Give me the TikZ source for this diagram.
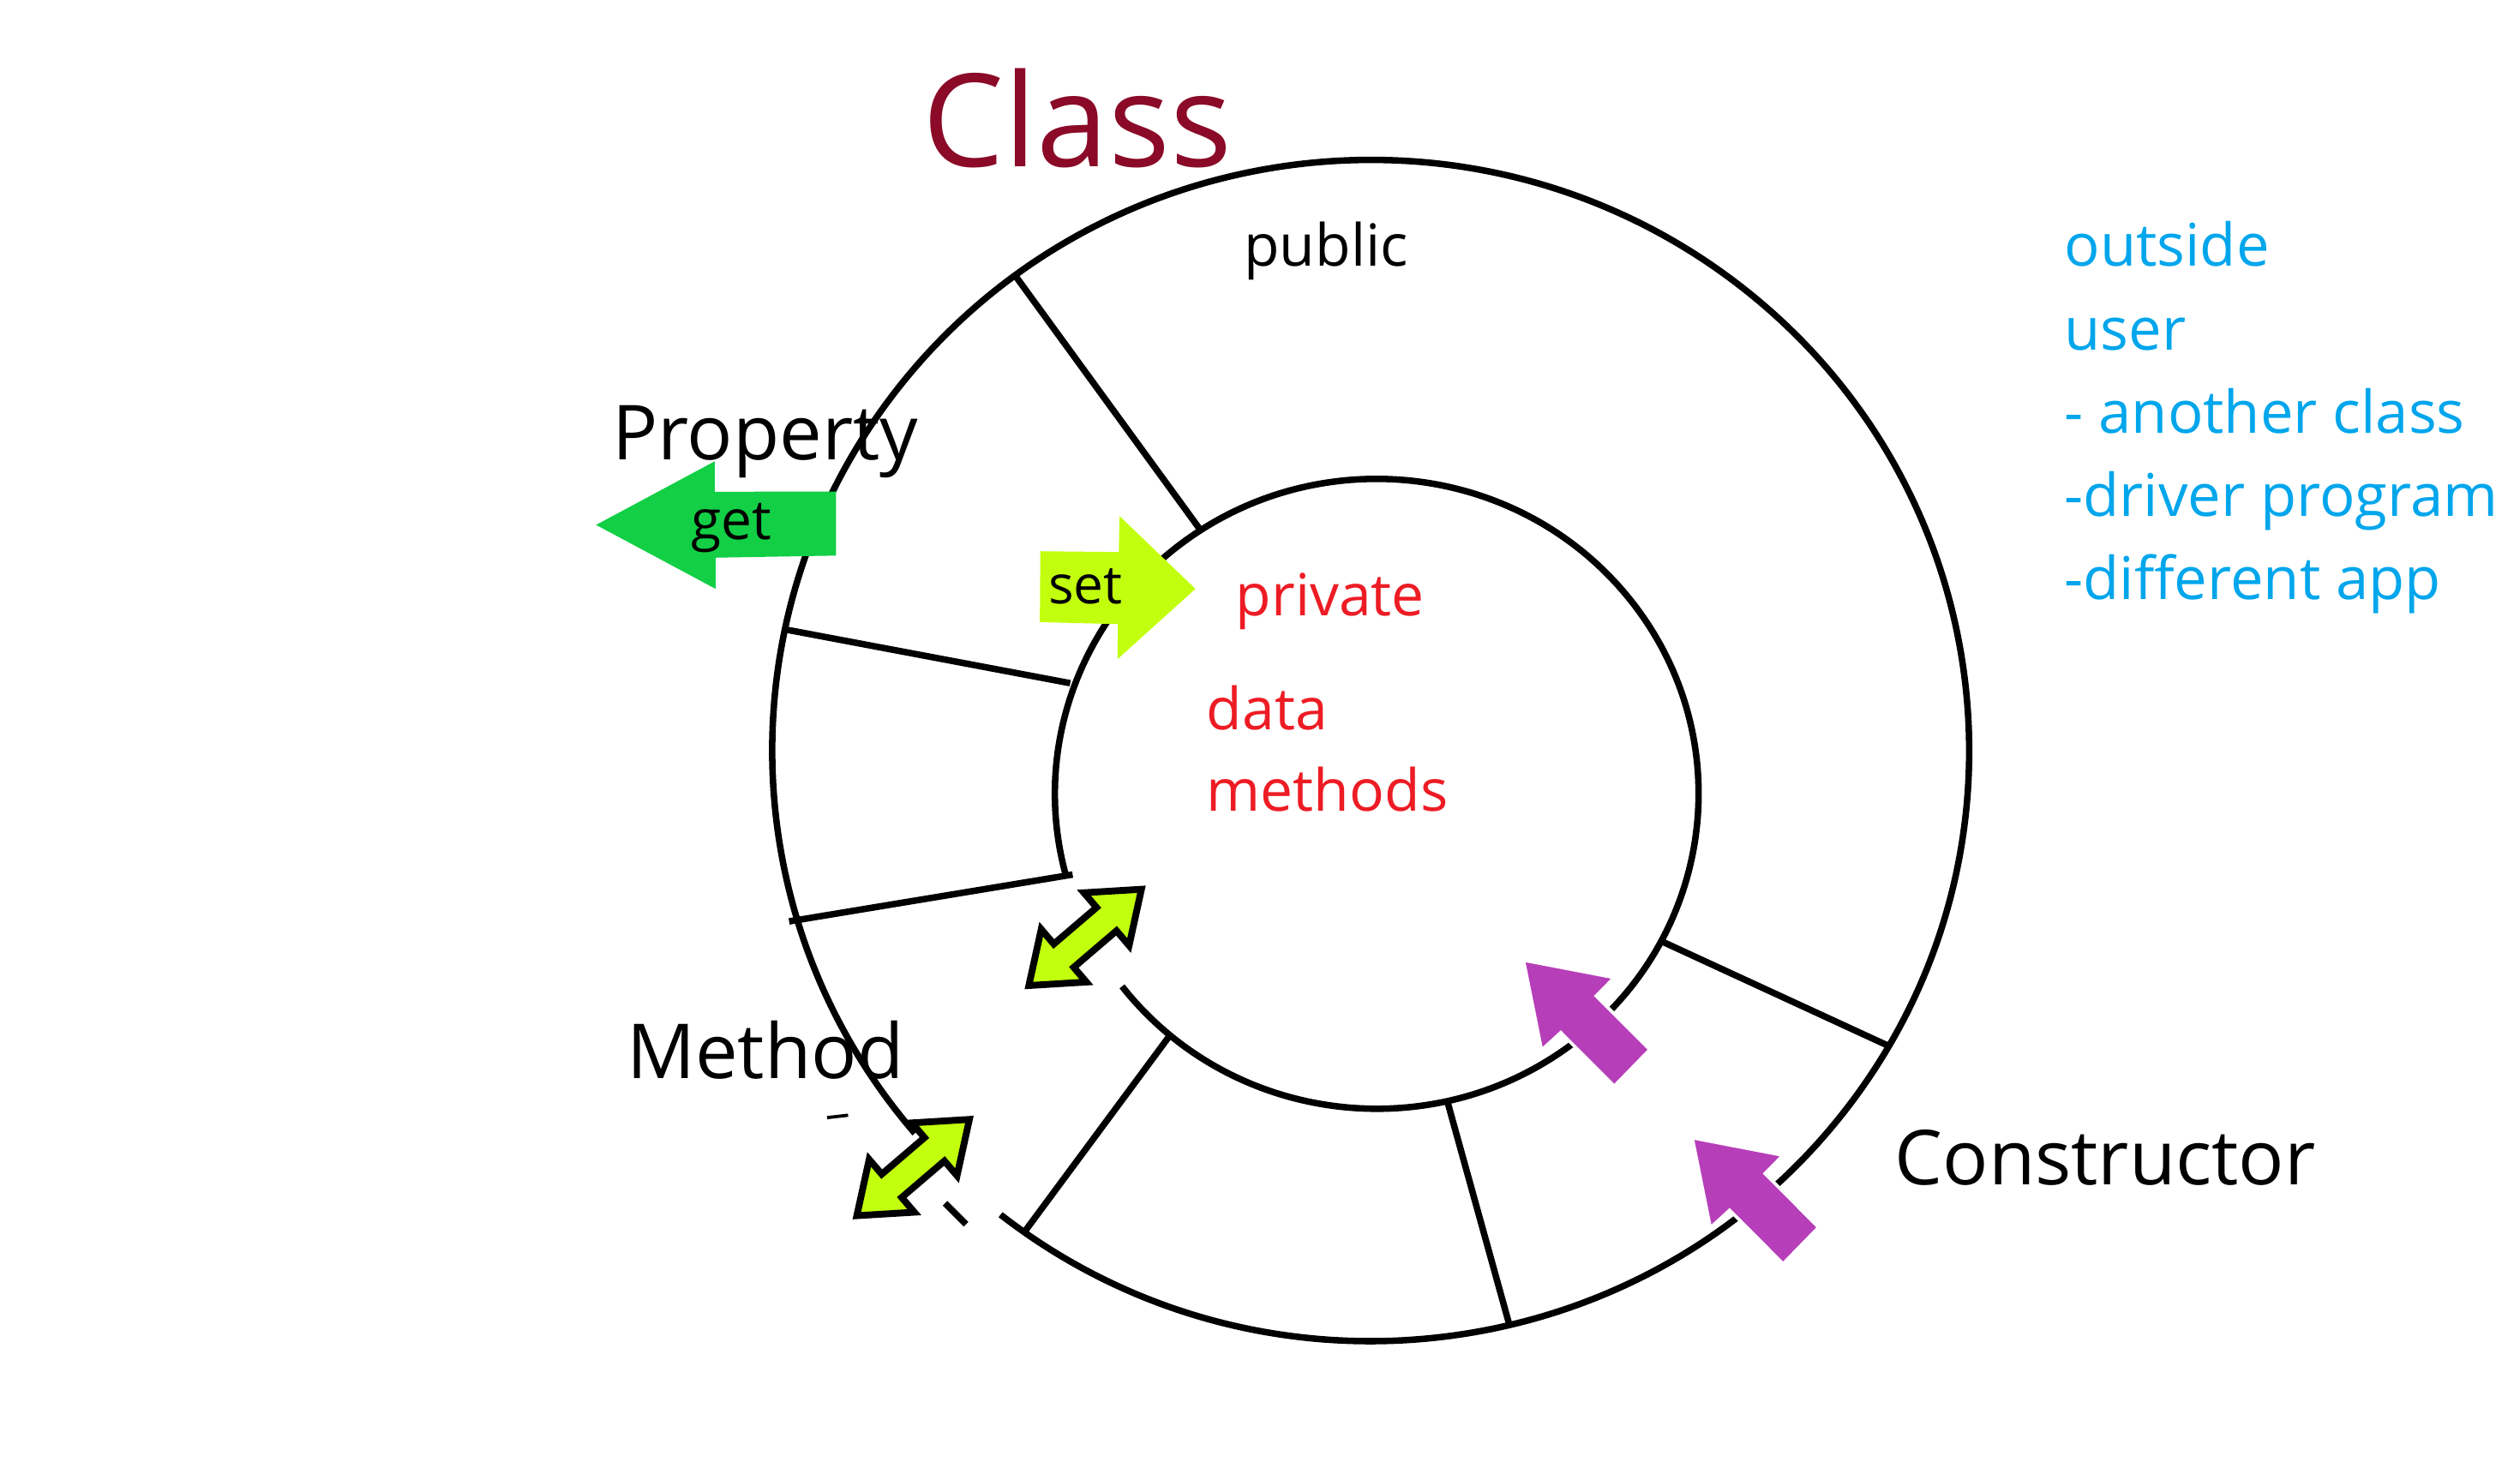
\documentclass[tikz,border=0pt]{standalone}
\usepackage{fontspec}
\setmainfont{Open Sans}
\definecolor{classred}{RGB}{138,10,40}
\definecolor{privred}{RGB}{237,28,36}
\definecolor{userblue}{RGB}{0,166,236}
\definecolor{getgreen}{RGB}{18,207,69}
\definecolor{setgreen}{RGB}{194,255,14}
\definecolor{ctorpurple}{RGB}{183,62,185}
\newcommand{\dblarr}[2]{%
  \begin{scope}[shift={(#1,#2)}, x={(0.760pt,0.650pt)}, y={(0.650pt,-0.760pt)}]
    \draw[dbl] (45.85,0) -- (17.4,21.5) -- (17.4,9.5) -- (-17.4,9.5) -- (-17.4,21.5)
      -- (-45.85,0) -- (-17.4,-21.5) -- (-17.4,-9.5) -- (17.4,-9.5) -- (17.4,-21.5) -- cycle;
  \end{scope}}
\begin{document}
\begin{tikzpicture}[x=1pt,y=-1pt,
  ring/.style={line width=4pt, black},
  spoke/.style={line width=4pt, black},
  lbl/.style={inner sep=0pt, outer sep=0pt, anchor=base west},
  dbl/.style={fill=setgreen, draw=black, line width=4.2pt, line join=miter},
  ctor/.style={fill=ctorpurple, draw=white, line width=2pt}]
\useasboundingbox (0,0) rectangle (1560,912.65);
% rings
\coordinate (oc) at (848.5,464.7);
\coordinate (ic) at (852.25,491.5);
\draw[ring] (oc) ++(128.2:370.5 and 365.7) arc[start angle=128.2, end angle=-220.4, x radius=370.5, y radius=365.7];
\draw[ring] (ic) ++(142.3:199.25 and 195) arc[start angle=142.3, end angle=-194.8, x radius=199.25, y radius=195];
\coordinate (d1a) at (585,745); \coordinate (d1b) at (598,758);
\draw[ring] (d1a) -- (d1b);
\coordinate (d2a) at (512,692); \coordinate (d2b) at (525,690.5);
\draw[line width=2pt] (d2a) -- (d2b);
% spokes
\coordinate (s1o) at (628,170);  \coordinate (s1i) at (743,328);
\coordinate (s2o) at (487.5,390); \coordinate (s2i) at (662.5,423);
\coordinate (s3o) at (488.5,570.5); \coordinate (s3i) at (664,541.5);
\coordinate (s4o) at (634,763);  \coordinate (s4i) at (725,640);
\coordinate (s5o) at (934,819);  \coordinate (s5i) at (896,682);
\coordinate (s6o) at (1170,648); \coordinate (s6i) at (1029,583);
\foreach \k in {1,...,6} \draw[spoke] (s\k o) -- (s\k i);
% get / set arrows
\fill[getgreen] (369,325) -- (442.5,285.6) -- (442.5,304.5) -- (517.5,304.3) -- (517.5,344)
  -- (443,345.3) -- (443,364.6) -- cycle;
\fill[setgreen] (644,341.3) -- (692.6,341.8) -- (693,319.5) -- (740,364.6) -- (691.8,408.1)
  -- (692,386.4) -- (643.7,385.2) -- cycle;
% double arrows
\dblarr{671.75}{580.4}
\dblarr{565.25}{722.9}
% constructor arrows
\foreach \dx/\dy in {0/0, 104.5/110}
  \filldraw[ctor, shift={(\dx,\dy)}] (943.1,594.5) -- (999.3,605.3) -- (988.1,616.6) -- (1021.3,649.9)
    -- (999.3,672.5) -- (966.2,639.3) -- (954.3,650.2) -- cycle;
% texts
\node[lbl, classred, font=\fontsize{80}{96}\selectfont] (title) at (571,103) {Class};
\node[lbl, font=\fontsize{36}{43}\selectfont] (pub) at (770,165) {public};
\node[lbl, font=\fontsize{47}{56}\selectfont] (prop) at (379,284.5) {Property};
\node[lbl, font=\fontsize{47}{56}\selectfont] (meth) at (388,668) {Method};
\node[lbl, font=\fontsize{47}{56}\selectfont] (ctor) at (1173,733.5) {Constructor};
\node[lbl, font=\fontsize{34}{40}\selectfont] (get) at (428,334) {get};
\node[lbl, font=\fontsize{33}{40}\selectfont] (set) at (649,374) {set};
\node[lbl, privred, font=\fontsize{36}{43}\selectfont] (priv) at (765,381) {private};
\node[lbl, privred, font=\fontsize{36}{43}\selectfont] (data) at (747,452) {data};
\node[lbl, privred, font=\fontsize{36}{43}\selectfont] (mths) at (747,502) {methods};
\node[lbl, userblue, font=\fontsize{36.5}{43}\selectfont] (u1) at (1278,165) {outside};
\node[lbl, userblue, font=\fontsize{36.5}{43}\selectfont] (u2) at (1278,216.5) {user};
\node[lbl, userblue, font=\fontsize{36.5}{43}\selectfont] (u3) at (1278,268) {- another class};
\node[lbl, userblue, font=\fontsize{36.5}{43}\selectfont] (u4) at (1278,319.5) {-driver program};
\node[lbl, userblue, font=\fontsize{36.5}{43}\selectfont] (u5) at (1278,371) {-different app};
\end{tikzpicture}
\end{document}
